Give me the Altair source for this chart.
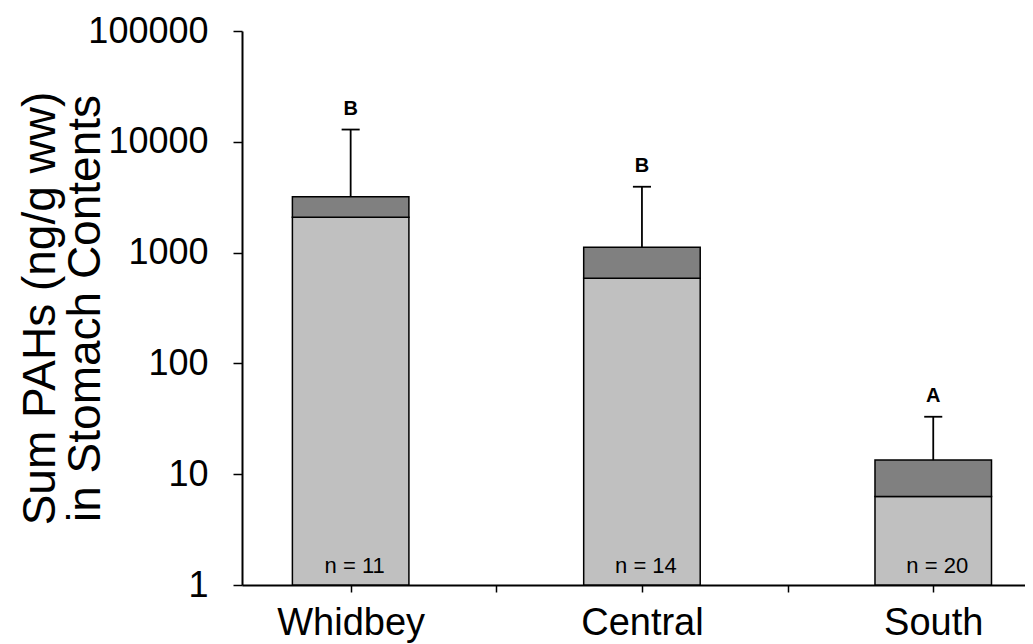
import altair as alt
import pandas as pd

# ---- data ----
categories = ["Whidbey", "Central", "South"]
lower_part = [2080, 586, 6.3]        # light grey segment top
total_mean = [3200, 1120, 13.4]      # dark grey segment top
error_upper = [12900, 3930, 33]      # error bar cap
sig_letters = ["B", "B", "A"]
n_labels = ["n = 11", "n = 14", "n = 20"]
y_ticks = [1, 10, 100, 1000, 10000, 100000]
x_ticks = [1, 1.5, 2, 2.5, 3]

FONT = "Liberation Sans"

df = pd.DataFrame({
    "cat": categories,
    "pos": [i + 1 for i in range(len(categories))],
    "low": lower_part,
    "tot": total_mean,
    "up": error_upper,
    "letter": sig_letters,
    "nlab": n_labels,
    "base": [1] * len(categories),
})
df["x1"] = df["pos"] - 0.2
df["x2"] = df["pos"] + 0.2
df["c1"] = df["pos"] - 0.031
df["c2"] = df["pos"] + 0.031

label_expr = " : ".join(
    [f"datum.value == {i + 1} ? '{c}'" for i, c in enumerate(categories)]
) + " : ''"

xscale = alt.Scale(domain=[0.627, 3.315], nice=False, zero=False)
yscale = alt.Scale(type="log", domain=[1, 100000], nice=False)

x_axis = alt.Axis(
    values=x_ticks, labelExpr=label_expr, title=None, grid=False,
    tickSize=7, tickWidth=1.5, tickColor="black", domainColor="black",
    domainWidth=2, labelFontSize=38, labelFont=FONT, labelColor="black",
    labelPadding=12, labelFlush=False, labelOverlap=False,
)
y_axis = alt.Axis(
    values=y_ticks, format="d", grid=False,
    title=["Sum PAHs (ng/g ww)", "in Stomach Contents"],
    titleFontSize=46, titleFont=FONT, titleFontWeight="normal", titleColor="black",
    titleLineHeight=45, titleX=-178, titleY=277, titleAngle=270,
    titleBaseline="bottom", titleAlign="center",
    tickSize=9, tickWidth=1.5, tickColor="black", domainColor="black",
    domainWidth=2, labelFontSize=36, labelFont=FONT, labelColor="black",
    labelPadding=25,
)

base = alt.Chart(df)

light = base.mark_bar(color="#c0c0c0", stroke="black", strokeWidth=1.5).encode(
    x=alt.X("x1:Q", scale=xscale, axis=x_axis),
    x2="x2:Q",
    y=alt.Y("base:Q", scale=yscale, axis=y_axis),
    y2="low:Q",
)
dark = base.mark_bar(color="#808080", stroke="black", strokeWidth=1.5).encode(
    x="x1:Q", x2="x2:Q", y="low:Q", y2="tot:Q",
)
err = base.mark_rule(color="black", strokeWidth=1.8).encode(
    x="pos:Q", y="tot:Q", y2="up:Q",
)
cap = base.mark_rule(color="black", strokeWidth=1.8).encode(
    x="c1:Q", x2="c2:Q", y="up:Q",
)
letters = base.mark_text(
    font=FONT, fontSize=20, fontWeight="bold", color="black",
    baseline="alphabetic", dy=-15,
).encode(x="pos:Q", y="up:Q", text="letter:N")
nlab = base.mark_text(
    font=FONT, fontSize=22, color="black", baseline="alphabetic", dy=-12, dx=4,
).encode(x="pos:Q", y="base:Q", text="nlab:N")

chart = alt.layer(light, dark, err, cap, letters, nlab).properties(
    width=783, height=554,
    autosize=alt.AutoSizeParams(type="none"),
    padding={"left": 234, "top": 23, "right": 0, "bottom": 59},
).configure(background="white").configure_view(stroke=None)

chart.save("out.html", embed_options={"renderer": "svg", "actions": False})
